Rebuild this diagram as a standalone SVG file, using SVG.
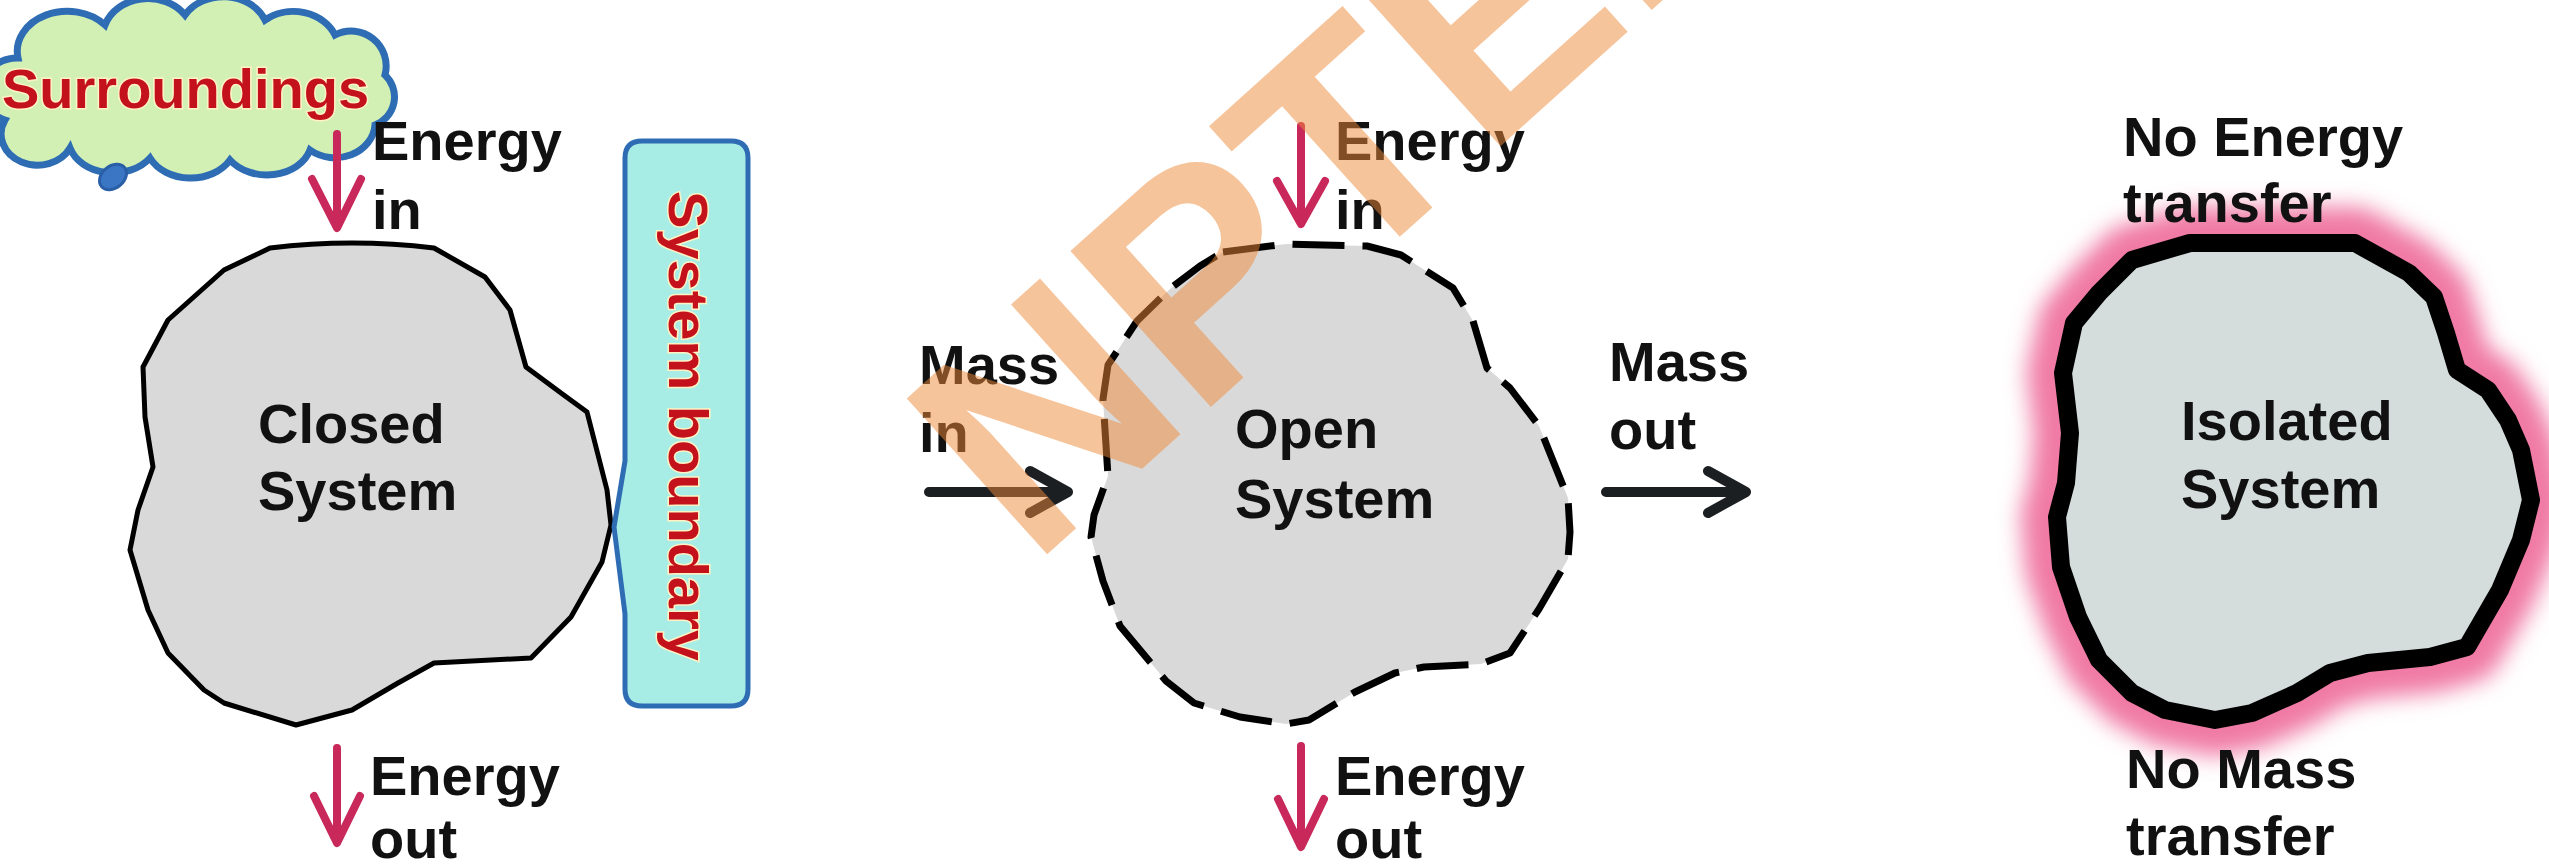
<svg xmlns="http://www.w3.org/2000/svg" width="2549" height="868" viewBox="0 0 2549 868">
<style>
.lbl{font-family:"Liberation Sans",Arial,sans-serif;font-weight:bold;font-size:56px;fill:#111}
.red{font-family:"Liberation Sans",Arial,sans-serif;font-weight:bold;font-size:56px;fill:#c4121c;stroke:#fff3c4;stroke-width:3;paint-order:stroke}
.earrow{fill:none;stroke:#c8285a;stroke-width:8;stroke-linecap:round;stroke-linejoin:round}
.marrow{fill:none;stroke:#1b1f22;stroke-width:10;stroke-linecap:round;stroke-linejoin:round}
.sys{fill:#d9d9d9;stroke:#000;stroke-linejoin:round}
.wm{font-family:"Liberation Sans",Arial,sans-serif;font-weight:bold;font-size:305px;fill:#ef8a3a;opacity:0.5}
</style>
<defs>
<filter id="glow" x="-30%" y="-30%" width="160%" height="160%">
<feGaussianBlur stdDeviation="11"/>
</filter>
</defs>
<rect width="2549" height="868" fill="#fff"/>

<g id="surroundings">
<path d="M18,58 A50,40 0 0 1 105,25 A45,38 0 0 1 185,15 A45,38 0 0 1 265,20 A45,38 0 0 1 335,35 A35,35 0 0 1 385,75 A30,30 0 0 1 375,125 A40,35 0 0 1 310,150 A45,35 0 0 1 230,160 A45,35 0 0 1 150,158 A45,35 0 0 1 70,148 A35,30 0 0 1 5,120 A35,32 0 0 1 18,58 Z" fill="#d2f0b4" stroke="#2e6db4" stroke-width="7"/>
<ellipse cx="113" cy="177" rx="15" ry="11" transform="rotate(-40 113 177)" fill="#3a76c4" stroke="#2a5fa8" stroke-width="3"/>
<text class="red" x="2" y="108">Surroundings</text>
</g>

<g id="closed-system">
<path class="sys" stroke-width="5" d="M270,248 Q352,238 434,248 L485,277 L510,310 L526,367 L561,393 L587,412 L607,490 L611,525 L602,562 L571,617 L531,658 L434,663 L398,683 L352,710 L296,725 L224,703 L204,690 L168,653 L148,610 L130,550 L138,510 L153,467 L145,417 L143,367 L168,320 L224,270 Z"/>
<text class="lbl" x="258" y="443">Closed</text>
<text class="lbl" x="258" y="510">System</text>
</g>

<g id="system-boundary">
<path d="M642,141 H731 Q748,141 748,158 V689 Q748,706 731,706 H642 Q625,706 625,689 V614 L614,527 L625,461 V158 Q625,141 642,141 Z" fill="#a8ece6" stroke="#2e6db4" stroke-width="5" stroke-linejoin="round"/>
<text class="red" text-anchor="middle" transform="translate(669,426) rotate(90)" x="0" y="0">System boundary</text>
</g>

<g id="open-system">
<path class="sys" stroke-width="7" stroke-dasharray="52 18" d="M1223,252 L1286,244 L1367,246 L1401,255 L1453,288 L1473,321 L1487,368 L1510,388 L1539,426 L1568,498 L1570,532 L1568,559 L1539,609 L1510,653 L1481,664 L1424,667 L1395,673 L1355,692 L1309,720 L1286,724 L1240,717 L1194,703 L1166,681 L1120,626 L1103,581 L1091,537 L1094,515 L1108,476 L1103,399 L1108,365 L1137,321 L1171,288 L1200,266 Z"/>
<text class="lbl" x="1235" y="448">Open</text>
<text class="lbl" x="1235" y="518">System</text>
</g>

<g id="isolated-system">
<path d="M2132,260 L2190,243 L2355,243 L2409,273 L2434,297 L2446,333 L2457,370 L2488,390 L2508,420 L2521,450 L2531,500 L2521,540 L2500,590 L2467,647 L2430,657 L2368,663 L2330,673 L2297,693 L2252,713 L2215,720 L2165,710 L2132,693 L2099,660 L2078,617 L2061,567 L2057,517 L2066,483 L2070,433 L2063,373 L2074,323 L2099,293 Z" fill="none" stroke="#f07aa4" stroke-width="72" stroke-linejoin="round" filter="url(#glow)"/>
<path d="M2132,260 L2190,243 L2355,243 L2409,273 L2434,297 L2446,333 L2457,370 L2488,390 L2508,420 L2521,450 L2531,500 L2521,540 L2500,590 L2467,647 L2430,657 L2368,663 L2330,673 L2297,693 L2252,713 L2215,720 L2165,710 L2132,693 L2099,660 L2078,617 L2061,567 L2057,517 L2066,483 L2070,433 L2063,373 L2074,323 L2099,293 Z" fill="#d4dcdc" stroke="#000" stroke-width="18" stroke-linejoin="round"/>
<text class="lbl" x="2181" y="440">Isolated</text>
<text class="lbl" x="2181" y="508">System</text>
</g>

<g id="labels">
<text class="lbl" x="372" y="160">Energy</text>
<text class="lbl" x="372" y="229">in</text>
<text class="lbl" x="370" y="795">Energy</text>
<text class="lbl" x="370" y="858">out</text>
<text class="lbl" x="1335" y="160">Energy</text>
<text class="lbl" x="1335" y="229">in</text>
<text class="lbl" x="1335" y="795">Energy</text>
<text class="lbl" x="1335" y="858">out</text>
<text class="lbl" x="919" y="384">Mass</text>
<text class="lbl" x="919" y="452">in</text>
<text class="lbl" x="1609" y="381">Mass</text>
<text class="lbl" x="1609" y="449">out</text>
<text class="lbl" x="2123" y="156">No Energy</text>
<text class="lbl" x="2123" y="222">transfer</text>
<text class="lbl" x="2126" y="788">No Mass</text>
<text class="lbl" x="2126" y="855">transfer</text>
</g>

<g id="connectors">
<path class="earrow" d="M337,134 V224 M312,179 L337,228 L361,179"/>
<path class="earrow" d="M337,748 V839 M314,796 L337,843 L360,796"/>
<path class="earrow" d="M1301,126 V220 M1277,181 L1301,224 L1325,181"/>
<path class="earrow" d="M1301,746 V843 M1278,799 L1301,847 L1324,799"/>
<path class="marrow" d="M929,492 H1064 M1030,471 L1068,492 L1030,513"/>
<path class="marrow" d="M1606,492 H1742 M1708,471 L1746,492 L1708,513"/>
</g>

<g id="watermark">
<text class="wm" transform="translate(1032,568) rotate(-42)" x="0" y="0">NPTEL</text>
</g>
</svg>
